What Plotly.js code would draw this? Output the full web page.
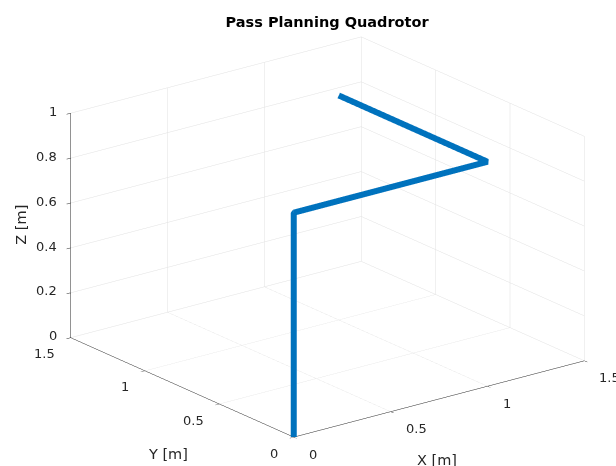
<!DOCTYPE html>
<html>
<head>
<meta charset="utf-8">
<script src="https://cdn.plot.ly/plotly-3.0.1.min.js"></script>
<style>html,body{margin:0;padding:0;background:#fff;}#chart{width:616px;height:466px;}</style>
</head>
<body>
<div id="chart"></div>
<script>
// Trajectory waypoints (m)
const pathX = [0, 0, 1, 1];
const pathY = [0, 0, 0, 1];
const pathZ = [0, 1, 1, 1];

const xTicks = [0, 0.5, 1, 1.5];
const yTicks = [0, 0.5, 1, 1.5];
const zTicks = [0, 0.2, 0.4, 0.6, 0.8, 1];
const xTickLabels = ['0', '0.5', '1', '1.5'];
const yTickLabels = ['0', '0.5', '1', '1.5'];
const zTickLabels = ['0', '0.2', '0.4', '0.6', '0.8', '1'];

const titleText = 'Pass Planning Quadrotor';
const xTitle = 'X [m]';
const yTitle = 'Y [m]';
const zTitle = 'Z [m]';

const FONT = 'DejaVu Sans, Liberation Sans, Arial, sans-serif';
const X_RANGE = [0, 1.5], Y_RANGE = [0, 1.5], Z_RANGE = [0, 1];

function axisStyle(range, ticks) {
  return {
    title: {text: ''},
    range: range,
    autorange: false,
    tickvals: ticks,
    showticklabels: false,
    ticks: 'outside',
    ticklen: 5,
    tickcolor: '#262626',
    showgrid: true,
    gridcolor: '#e1e1e1',
    gridwidth: 1,
    showline: true,
    linecolor: '#262626',
    linewidth: 1,
    zeroline: false,
    showbackground: false,
    showspikes: false
  };
}

const trace = {
  type: 'scatter3d',
  mode: 'lines',
  x: pathX, y: pathY, z: pathZ,
  line: {color: '#0072BD', width: 12},
  hoverinfo: 'skip',
  showlegend: false
};

const R = 1.25;
const eyeDir = [-0.572, -0.745, 0.342];
const zoom = 1.6;

const tickFont = {family: FONT, size: 13, color: '#262626'};
const titleFont = {family: FONT, size: 14.5, color: '#262626'};

const annotations = [];
// tick labels placed at the tick positions on the axis edges
xTicks.forEach((v, i) => annotations.push({x: v, y: Y_RANGE[0], z: Z_RANGE[0], text: xTickLabels[i], showarrow: false, font: tickFont, xanchor: 'left', yanchor: 'middle', xshift: 13, yshift: -17}));
yTicks.forEach((v, i) => annotations.push({x: X_RANGE[0], y: v, z: Z_RANGE[0], text: yTickLabels[i], showarrow: false, font: tickFont, xanchor: 'right', yanchor: 'middle', xshift: -14, yshift: -16}));
zTicks.forEach((v, i) => annotations.push({x: X_RANGE[0], y: Y_RANGE[1], z: v, text: zTickLabels[i], showarrow: false, font: tickFont, xanchor: 'right', yanchor: 'middle', xshift: -12, yshift: 2}));
// axis titles
annotations.push({x: 0.75, y: Y_RANGE[0], z: Z_RANGE[0], text: xTitle, showarrow: false, font: titleFont, xshift: -2, yshift: -61});
annotations.push({x: X_RANGE[0], y: 0.75, z: Z_RANGE[0], text: yTitle, showarrow: false, font: titleFont, xshift: -15, yshift: -67});
annotations.push({x: X_RANGE[0], y: Y_RANGE[1], z: 0.5, text: zTitle, showarrow: false, font: titleFont, textangle: -90, xshift: -50, yshift: 1});

const layout = {
  width: 616, height: 466,
  margin: {l: 0, r: 0, t: 0, b: 0},
  paper_bgcolor: '#ffffff',
  title: {text: '<b>' + titleText + '</b>', font: {family: FONT, size: 14.5, color: '#000000'}, x: 0.531, xanchor: 'center', y: 0.952, yanchor: 'middle'},
  showlegend: false,
  scene: {
    domain: {x: [0.064, 1], y: [0, 0.982]},
    xaxis: axisStyle(X_RANGE, xTicks),
    yaxis: axisStyle(Y_RANGE, yTicks),
    zaxis: axisStyle(Z_RANGE, zTicks),
    aspectmode: 'manual',
    aspectratio: {x: zoom, y: zoom, z: 0.652 * zoom},
    camera: {
      eye: {x: eyeDir[0] * R, y: eyeDir[1] * R, z: eyeDir[2] * R},
      center: {x: 0, y: 0, z: 0},
      up: {x: 0, y: 0, z: 1},
      projection: {type: 'orthographic'}
    },
    annotations: annotations
  }
};

Plotly.newPlot('chart', [trace], layout, {displayModeBar: false});
</script>
</body>
</html>
